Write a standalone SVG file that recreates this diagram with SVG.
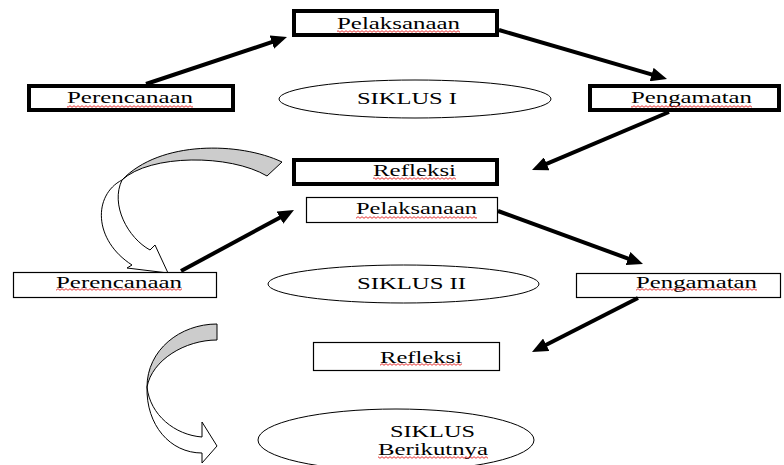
<svg xmlns="http://www.w3.org/2000/svg" width="784" height="465" viewBox="0 0 784 465">
<style>
.thick{fill:#fff;stroke:#000;stroke-width:4}
.thin{fill:#fff;stroke:#000;stroke-width:1.2}
.ell{fill:#fff;stroke:#000;stroke-width:1}
.t{font-family:'Liberation Serif','DejaVu Serif',serif;font-size:17px;fill:#000}
.conn line{stroke:#000;stroke-width:4;marker-end:url(#ah)}
.wavy{fill:url(#wv)}
.gray{fill:#cccccc;stroke:#000;stroke-width:1;stroke-linejoin:round}
.white{fill:#fff;stroke:#000;stroke-width:1;stroke-linejoin:round}
</style>
<defs>
<marker id="ah" markerUnits="userSpaceOnUse" markerWidth="16" markerHeight="14" refX="6" refY="7" orient="auto">
<path d="M0,0 L16,7 L0,14 Z" fill="#000"/>
</marker>
<pattern id="wv" patternUnits="userSpaceOnUse" width="4" height="3">
<path d="M0,2.3 L2,0.7 L4,2.3" fill="none" stroke="#e00000" stroke-width="0.8"/>
</pattern>
</defs>
<rect width="784" height="465" fill="#fff"/>

<g id="curve1">
<path class="gray" d="M282,162 C240,142 160,140 122,180 C150,154 230,154 267,176 Z"/>
<path class="white" d="M122,180 C93,195 93,240 132,265 L127,268 L168,273 L155,245 L150,250 C128,238 110,205 122,180 Z"/>
</g>
<g id="curve2">
<path class="gray" d="M217,324 C180,324 147,350 147,387 C152,360 185,340 217,340 Z"/>
<path class="white" d="M147,387 C146,425 170,453 202,453 L202,463 L217,446 L202,422 L202,437 C175,435 150,415 147,387 Z"/>
</g>

<g id="pelaksanaan1">
<rect class="thick" x="294" y="11" width="203" height="24"/>
<text class="t" x="337" y="29" textLength="123" lengthAdjust="spacingAndGlyphs">Pelaksanaan</text>
<rect class="wavy" x="337" y="30" width="123" height="3"/>
</g>
<g id="perencanaan1">
<rect class="thick" x="29" y="86" width="204" height="24"/>
<text class="t" x="67" y="103" textLength="126" lengthAdjust="spacingAndGlyphs">Perencanaan</text>
<rect class="wavy" x="67" y="105" width="126" height="3"/>
</g>
<g id="siklus1">
<ellipse class="ell" cx="415" cy="99" rx="136" ry="19"/>
<text class="t" x="357" y="104" textLength="100" lengthAdjust="spacingAndGlyphs">SIKLUS I</text>
</g>
<g id="pengamatan1">
<rect class="thick" x="590" y="86" width="189" height="24"/>
<text class="t" x="631" y="103" textLength="121" lengthAdjust="spacingAndGlyphs">Pengamatan</text>
<rect class="wavy" x="631" y="105" width="121" height="3"/>
</g>
<g id="refleksi1">
<rect class="thick" x="294" y="160" width="203" height="24"/>
<text class="t" x="373" y="176" textLength="83" lengthAdjust="spacingAndGlyphs">Refleksi</text>
<rect class="wavy" x="373" y="177" width="83" height="3"/>
</g>

<g id="pelaksanaan2">
<rect class="thin" x="306.5" y="197.5" width="191" height="25"/>
<text class="t" x="356" y="214" textLength="121" lengthAdjust="spacingAndGlyphs">Pelaksanaan</text>
<rect class="wavy" x="356" y="216" width="121" height="3"/>
</g>
<g id="perencanaan2">
<rect class="thin" x="13.5" y="272.5" width="203" height="25"/>
<text class="t" x="56" y="288" textLength="126" lengthAdjust="spacingAndGlyphs">Perencanaan</text>
<rect class="wavy" x="56" y="288" width="126" height="3"/>
</g>
<g id="siklus2">
<ellipse class="ell" cx="403.5" cy="284" rx="135.5" ry="19"/>
<text class="t" x="357" y="289" textLength="109" lengthAdjust="spacingAndGlyphs">SIKLUS II</text>
</g>
<g id="pengamatan2">
<rect class="thin" x="576.5" y="273.5" width="204" height="24"/>
<text class="t" x="636" y="288" textLength="121" lengthAdjust="spacingAndGlyphs">Pengamatan</text>
<rect class="wavy" x="636" y="288" width="121" height="3"/>
</g>
<g id="refleksi2">
<rect class="thin" x="313.5" y="342.5" width="186" height="28"/>
<text class="t" x="380" y="363" textLength="82" lengthAdjust="spacingAndGlyphs">Refleksi</text>
<rect class="wavy" x="380" y="363" width="82" height="3"/>
</g>
<g id="siklus-berikutnya">
<ellipse class="ell" cx="396" cy="440" rx="138" ry="31"/>
<text class="t" x="390" y="437" textLength="85" lengthAdjust="spacingAndGlyphs">SIKLUS</text>
<text class="t" x="378" y="455" textLength="110" lengthAdjust="spacingAndGlyphs">Berikutnya</text>
<rect class="wavy" x="378" y="456" width="110" height="3"/>
</g>

<g id="connectors" class="conn">
<line x1="146" y1="84" x2="277.5" y2="40.2"/>
<line x1="499" y1="30" x2="657.4" y2="76.2"/>
<line x1="669" y1="112" x2="541.2" y2="166.1"/>
<line x1="181" y1="271" x2="285.2" y2="214.75"/>
<line x1="498" y1="211" x2="633.6" y2="260.6"/>
<line x1="638" y1="298" x2="540.9" y2="347.5"/>
</g>
</svg>
